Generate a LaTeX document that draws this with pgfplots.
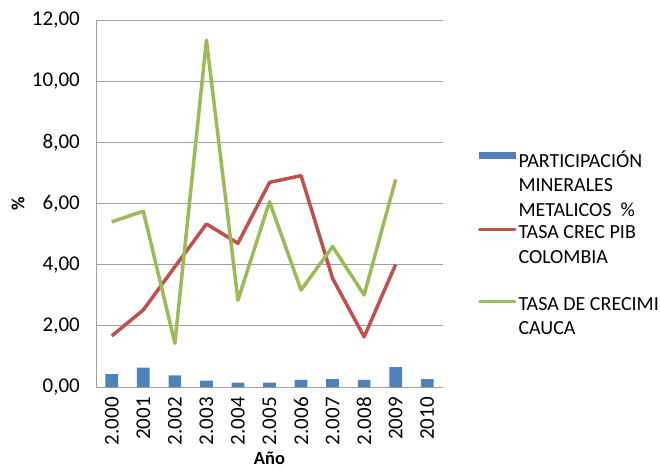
\documentclass[border=0pt]{standalone}
\usepackage{pgfplots}
\pgfplotsset{compat=1.18}
\usepackage{fontspec}
\setmainfont{Carlito}
\definecolor{cblue}{HTML}{4F81BD}
\definecolor{cred}{HTML}{C0504D}
\definecolor{cgreen}{HTML}{9BBB59}
\definecolor{gridc}{HTML}{A0A0A0}
\begin{document}
\begin{tikzpicture}
\begin{axis}[
  at={(0pt,0pt)}, anchor=south west,
  scale only axis, width=347pt, height=367pt,
  xmin=-0.5, xmax=10.5, ymin=0, ymax=12,
  xtick={0,...,10},
  xticklabels={2.000,2001,2.002,2.003,2.004,2.005,2.006,2.007,2.008,2009,2010},
  x tick label style={rotate=90, anchor=east, inner xsep=10pt, inner ysep=0pt},
  ytick={0,2,4,6,8,10,12},
  y tick label style={inner sep=0pt, xshift=-16pt},
  /pgf/number format/.cd, fixed, fixed zerofill, precision=2, use comma, 1000 sep={}, assume math mode=true,
  /pgfplots/.cd,
  axis lines*=left,
  ymajorgrids, grid style={gridc, line width=0.9pt},
  axis line style={gridc, line width=0.9pt},
  major tick length=0pt,
  tick label style={font=\fontsize{21}{24}\selectfont},
  label style={font=\fontsize{18.5}{22}\selectfont\bfseries},
  xlabel={Año}, ylabel={\%},
  xlabel style={at={(rel axis cs:0.5,0)}, anchor=base, yshift=-77pt},
  ylabel style={at={(rel axis cs:0,0.5)}, anchor=center, yshift=78pt},
  legend style={at={(1.1009,0.6516)}, anchor=north west, draw=none, inner sep=0pt, outer sep=0pt,
    font=\fontsize{20}{24.5}\selectfont, cells={anchor=base west, align=left, inner sep=0pt},
    column sep=0pt, row sep=0pt},
]
\addplot[ybar, bar width=12.7pt, fill=cblue, draw=none,
  legend image code/.code={\fill[cblue] (0pt,57.5pt) rectangle (37pt,64.5pt);}]
  coordinates {(0,0.42) (1,0.63) (2,0.38) (3,0.21) (4,0.14) (5,0.14) (6,0.23) (7,0.26) (8,0.23) (9,0.65) (10,0.26)};
\addlegendentry{\strut PARTICIPACIÓN\\\strut MINERALES\\\strut METALICOS\ \ \%}
\addplot[cred, line width=3.5pt, line join=round,
  legend image code/.code={\draw[cred, line width=3.5pt, line cap=round] (1pt,58pt) -- (36pt,58pt);}]
  coordinates {(0,1.67) (1,2.52) (2,3.93) (3,5.33) (4,4.70) (5,6.69) (6,6.91) (7,3.55) (8,1.64) (9,4.01)};
\addlegendentry{\strut TASA CREC PIB\\\strut COLOMBIA\\\strut}
\addplot[cgreen, line width=3.5pt, line join=round,
  legend image code/.code={\draw[cgreen, line width=3.5pt, line cap=round] (1pt,33.5pt) -- (36pt,33.5pt);}]
  coordinates {(0,5.40) (1,5.75) (2,1.43) (3,11.34) (4,2.84) (5,6.06) (6,3.17) (7,4.59) (8,3.01) (9,6.79)};
\addlegendentry{\strut TASA DE CRECIMI\\\strut CAUCA}
\end{axis}
\pgfresetboundingbox
\path (-96pt,-82pt) rectangle (564pt,387pt);
\end{tikzpicture}
\end{document}
